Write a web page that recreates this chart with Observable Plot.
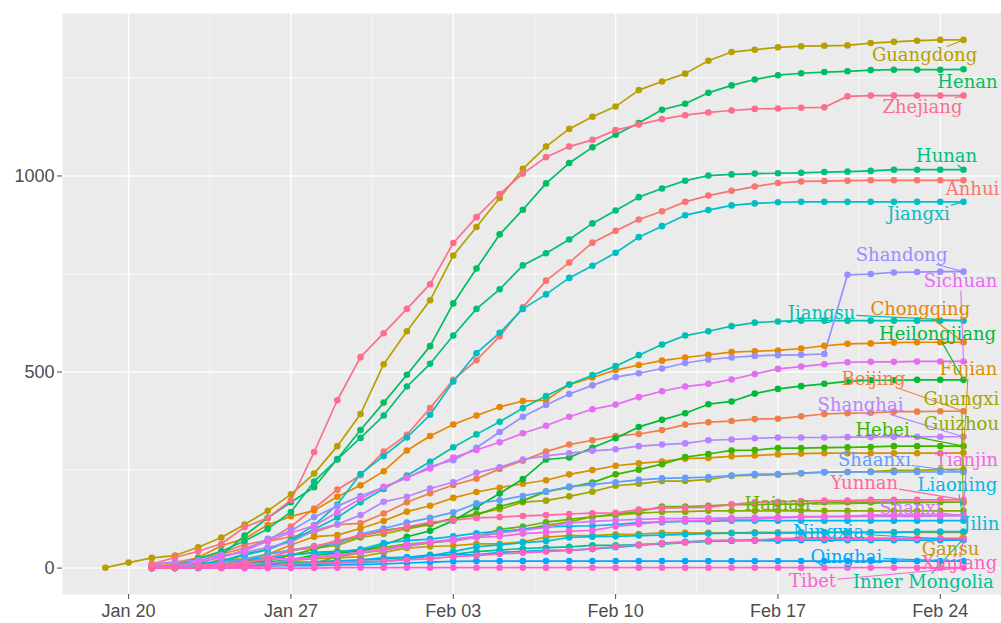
<!DOCTYPE html>
<html><head><meta charset="utf-8">
<script src="https://cdn.jsdelivr.net/npm/d3@7"></script>
<script src="https://cdn.jsdelivr.net/npm/@observablehq/plot@0.6"></script>
<style>html,body{margin:0;padding:0;background:#fff;overflow:hidden}svg{display:block}</style>
</head><body><div id="chart"></div>
<script>
const dates = ["2020-01-19","2020-01-20","2020-01-21","2020-01-22","2020-01-23","2020-01-24","2020-01-25","2020-01-26","2020-01-27","2020-01-28","2020-01-29","2020-01-30","2020-01-31",
"2020-02-01","2020-02-02","2020-02-03","2020-02-04","2020-02-05","2020-02-06","2020-02-07","2020-02-08","2020-02-09","2020-02-10","2020-02-11","2020-02-12","2020-02-13","2020-02-14","2020-02-15","2020-02-16","2020-02-17","2020-02-18","2020-02-19","2020-02-20","2020-02-21","2020-02-22","2020-02-23","2020-02-24","2020-02-25"];

const provinces = ["Anhui","Beijing","Chongqing","Fujian","Gansu","Guangdong","Guangxi","Guizhou","Hainan","Hebei","Heilongjiang","Henan","Hunan","Inner Mongolia","Jiangsu","Jiangxi","Jilin","Liaoning","Ningxia","Qinghai","Shaanxi","Shandong","Shanghai","Shanxi","Sichuan","Tianjin","Tibet","Xinjiang","Yunnan","Zhejiang"];

const anhui = [null,null,0,1,15,39,60,70,106,152,200,237,297,340,408,480,530,591,665,733,779,830,860,889,910,934,950,962,973,982,986,987,988,989,989,989,989,989];
const beijing = [null,null,10,14,26,36,51,68,80,91,111,114,139,168,191,212,228,253,274,297,315,326,337,342,352,366,372,375,380,381,387,393,395,396,399,399,400,400];
const chongqing = [null,null,5,9,27,57,75,110,132,147,182,211,247,300,337,366,389,411,426,428,468,486,505,518,529,537,544,551,553,555,560,567,572,573,575,576,576,576];
const fujian = [null,null,0,1,5,10,18,35,59,80,84,101,120,144,159,179,194,205,215,224,239,250,261,267,272,279,281,285,287,290,292,293,293,293,293,293,293,294];
const gansu = [null,null,0,0,2,4,7,14,19,24,26,29,40,51,55,57,62,62,67,79,83,83,86,87,90,90,90,90,91,91,91,91,91,91,91,91,91,91];
const guangdong = [1,14,26,32,53,78,111,146,188,241,311,393,520,604,683,797,870,944,1018,1075,1120,1151,1177,1219,1241,1261,1294,1316,1322,1328,1331,1332,1333,1339,1342,1345,1347,1347];
const guangxi = [null,null,0,2,5,23,23,36,46,51,58,78,87,100,111,127,139,150,168,172,183,195,210,215,222,222,226,235,237,238,242,244,245,246,249,249,251,252];
const guizhou = [null,null,0,1,3,4,5,7,9,12,29,38,46,56,64,71,81,89,99,109,118,131,135,140,143,144,146,146,146,146,146,146,146,146,146,146,146,146];
const hainan = [null,null,0,4,5,8,19,22,33,40,43,46,52,62,64,72,80,99,106,117,124,131,138,144,157,157,159,162,162,163,163,168,168,168,168,168,168,168];
const hebei = [null,null,0,1,2,8,13,18,33,48,65,82,96,104,113,126,135,157,172,195,206,218,239,251,265,283,291,300,301,306,306,307,308,309,311,311,311,311];
const heilongjiang = [null,null,0,1,2,4,9,15,21,33,38,44,59,80,95,121,155,190,227,277,282,307,331,360,378,395,418,425,445,457,464,470,476,479,479,480,480,480];
const henan = [null,null,1,5,9,32,83,128,168,206,278,352,422,493,566,675,764,851,914,981,1033,1073,1105,1135,1169,1184,1212,1231,1246,1257,1262,1265,1267,1270,1271,1271,1271,1272];
const hunan = [null,null,1,4,24,43,69,100,143,221,277,332,389,463,521,593,661,711,772,803,838,879,912,946,968,988,1001,1004,1006,1007,1008,1010,1011,1013,1016,1016,1016,1016];
const innerMongolia = [null,null,0,0,1,7,7,11,15,16,19,20,23,27,34,35,42,46,50,52,54,58,58,60,61,65,68,70,72,73,75,75,75,75,75,75,75,75];
const jiangsu = [null,null,1,5,9,18,33,47,70,99,129,168,202,236,271,308,341,373,408,439,468,492,515,543,570,593,604,617,626,629,631,631,631,631,631,631,631,631];
const jiangxi = [null,null,2,3,7,18,36,48,72,109,162,240,286,333,391,476,548,600,661,698,740,771,804,844,872,900,913,925,930,933,934,934,934,934,934,934,934,934];
const jilin = [null,null,0,0,1,3,4,6,8,9,14,14,17,23,31,42,54,59,65,69,78,80,81,83,84,86,88,89,89,89,90,91,91,91,91,93,93,93];
const liaoning = [null,null,0,2,4,17,21,27,34,39,41,48,64,70,74,81,89,94,99,105,107,108,111,116,117,119,119,121,121,121,121,121,121,121,121,121,121,121];
const ningxia = [null,null,0,1,2,3,4,7,11,12,17,21,26,28,31,34,34,40,43,45,45,49,53,58,64,67,70,70,70,70,71,71,71,71,71,71,71,71];
const qinghai = [null,null,0,0,0,0,1,6,6,6,8,9,11,13,15,17,18,18,18,18,18,18,18,18,18,18,18,18,18,18,18,18,18,18,18,18,18,18];
const shaanxi = [null,null,0,0,3,15,22,35,46,56,63,87,101,116,128,142,165,173,184,195,208,213,219,225,229,230,232,236,240,240,242,245,245,245,245,245,245,245];
const shandong = [null,null,1,6,15,27,46,75,95,130,158,184,206,230,259,275,307,347,386,416,444,466,487,497,509,523,532,537,541,543,544,546,748,750,754,755,756,756];
const shanghai = [null,null,9,16,20,33,40,53,66,96,112,135,169,182,203,219,243,257,277,286,293,299,303,311,315,318,326,328,331,333,333,333,334,334,335,335,335,335];
const shanxi = [null,null,0,1,1,6,9,13,20,27,35,39,47,56,66,74,81,90,96,104,115,119,122,124,126,126,127,128,129,130,131,131,132,132,132,132,133,133];
const sichuan = [null,null,2,5,15,28,44,69,90,108,142,177,207,231,254,282,301,321,344,363,386,405,417,436,451,463,470,481,495,508,514,520,525,526,526,527,527,527];
const tianjin = [null,null,2,4,8,10,14,23,24,27,32,41,48,60,67,69,78,81,88,91,94,96,106,112,119,120,122,124,125,128,130,131,132,135,135,135,135,135];
const tibet = [null,null,0,0,0,0,0,0,0,0,1,1,1,1,1,1,1,1,1,1,1,1,1,1,1,1,1,1,1,1,1,1,1,1,1,1,1,1];
const xinjiang = [null,null,0,0,2,3,4,5,10,13,14,17,18,21,24,29,32,36,39,42,45,49,55,59,63,65,70,71,71,75,76,76,76,76,76,76,76,76];
const yunnan = [null,null,0,1,2,5,11,26,44,55,70,83,93,105,117,122,128,130,133,135,138,140,141,149,153,154,155,162,168,169,171,172,172,174,174,174,174,174];
const zhejiang = [null,null,10,27,43,62,104,128,173,296,428,538,599,661,724,829,895,954,1006,1048,1075,1092,1117,1131,1145,1155,1162,1167,1171,1172,1174,1175,1203,1205,1205,1205,1205,1205];

const seriesList = [anhui,beijing,chongqing,fujian,gansu,guangdong,guangxi,guizhou,hainan,hebei,heilongjiang,henan,hunan,innerMongolia,jiangsu,jiangxi,jilin,liaoning,ningxia,qinghai,shaanxi,shandong,shanghai,shanxi,sichuan,tianjin,tibet,xinjiang,yunnan,zhejiang];

// repelled label positions (label centre: day since Jan 19, value)
const labelDay = [37.39,33.12,35.14,37.21,36.44,35.32,36.91,36.91,28.98,33.51,35.88,37.17,36.27,35.27,30.88,35.06,37.77,36.74,31.18,31.95,33.16,34.33,32.56,34.71,36.87,37.13,30.49,36.83,32.73,35.23];
const labelValue = [965,481,659,506,47,1307,430,366,162,351,596,1238,1051,-37,649,902,111,211,91,27,274,797,415,152,731,274,-34,12,216,1176];

const xTicks = ["2020-01-20","2020-01-27","2020-02-03","2020-02-10","2020-02-17","2020-02-24"];
const xTickLabels = ["Jan 20","Jan 27","Feb 03","Feb 10","Feb 17","Feb 24"];
const xMinor = ["2020-01-23T12:00Z","2020-01-30T12:00Z","2020-02-06T12:00Z","2020-02-13T12:00Z","2020-02-20T12:00Z"];
const yTicks = [0,500,1000];
const yMinor = [250,750,1250];

// ---- build ----
const DAY = 864e5;
const parse = s => new Date(s.length === 10 ? s + "T00:00Z" : s);
const rows = [];
provinces.forEach((p, k) => seriesList[k].forEach((v, i) => { if (v != null) rows.push({province: p, date: parse(dates[i]), value: v}); }));

function hueColor(h, c = 100, l = 65) {
  const hr = h * Math.PI / 180, u = c * Math.cos(hr), v = c * Math.sin(hr);
  const un = 0.1978398, vn = 0.4683363;
  const Y = l > 8 ? Math.pow((l + 16) / 116, 3) : l / 903.3;
  const up = u / (13 * l) + un, vp = v / (13 * l) + vn;
  const X = 9 * Y * up / (4 * vp), Z = Y * (12 - 3 * up - 20 * vp) / (4 * vp);
  const lin = [3.240479*X - 1.537150*Y - 0.498535*Z, -0.969256*X + 1.875992*Y + 0.041556*Z, 0.055648*X - 0.204043*Y + 1.057311*Z];
  const g = t => { t = t > 0.00304 ? 1.055 * Math.pow(t, 1/2.4) - 0.055 : 12.92 * t; return Math.round(255 * Math.max(0, Math.min(1, t))); };
  return "#" + lin.map(g).map(n => n.toString(16).padStart(2, "0")).join("");
}
const n = provinces.length;
const palette = provinces.map((_, i) => hueColor(15 + 360 * i / n));

const firstDate = parse(dates[0]), lastDate = parse(dates[dates.length - 1]);
const span = (lastDate - firstDate);
const xDomain = [new Date(+firstDate - 0.05 * span), new Date(+lastDate + 0.0443 * span)];
const vmax = d3.max(rows, d => d.value);
const yDomain = [-0.05 * vmax, 1.05 * vmax];

const W = 1001, H = 623, ML = 62, MR = 0, MT = 13, MB = 29;
const xs = Plot.scale({x: {type: "utc", domain: xDomain, range: [ML, W - MR]}});
const ys = Plot.scale({y: {type: "linear", domain: yDomain, range: [H - MB, MT]}});

const labelSize = 18, labelFont = "DejaVu Serif";
const ctx = document.createElement("canvas").getContext("2d");
ctx.font = `${labelSize}px "${labelFont}"`;

const labels = provinces.map((p, k) => ({province: p, date: new Date(+firstDate + labelDay[k] * DAY), value: labelValue[k]}));
const segs = [];
provinces.forEach((p, k) => {
  const last = seriesList[k][seriesList[k].length - 1];
  const px = xs.apply(lastDate), py = ys.apply(last);
  const cx = xs.apply(labels[k].date), cy = ys.apply(labels[k].value);
  const w = ctx.measureText(p).width / 2 + 1, h = labelSize * 0.5;
  if (Math.abs(px - cx) <= w && Math.abs(py - cy) <= h) return;
  const dx = cx - px, dy = cy - py;
  let t = 0;
  if (dx !== 0) t = Math.max(t, Math.min((cx - w - px) / dx, (cx + w - px) / dx));
  if (dy !== 0) t = Math.max(t, Math.min((cy - h - py) / dy, (cy + h - py) / dy));
  const ex = px + t * dx, ey = py + t * dy;
  if (Math.hypot(ex - px, ey - py) < 6) return;
  segs.push({province: p, x1: lastDate, y1: last, x2: xs.invert(ex), y2: ys.invert(ey)});
});

const tickLabel = new Map(xTicks.map((d, i) => [+parse(d), xTickLabels[i]]));

const chart = Plot.plot({
  width: W, height: H, marginLeft: ML, marginRight: MR, marginTop: MT, marginBottom: MB,
  style: {fontFamily: "'Liberation Sans', Arial, sans-serif", fontSize: "18px", background: "#fff", overflow: "hidden"},
  x: {type: "utc", domain: xDomain, axis: null},
  y: {domain: yDomain, axis: null},
  color: {domain: provinces, range: palette},
  marks: [
    Plot.frame({fill: "#EBEBEB", stroke: null}),
    Plot.ruleY(yMinor, {stroke: "#fff", strokeWidth: 0.7}),
    Plot.ruleX(xMinor.map(parse), {stroke: "#fff", strokeWidth: 0.7}),
    Plot.ruleY(yTicks, {stroke: "#fff", strokeWidth: 1.4}),
    Plot.ruleX(xTicks.map(parse), {stroke: "#fff", strokeWidth: 1.4}),
    Plot.line(rows, {x: "date", y: "value", z: "province", stroke: "province", strokeWidth: 1.7}),
    Plot.dot(rows, {x: "date", y: "value", fill: "province", r: 3.3, stroke: null}),
    Plot.link(segs, {x1: "x1", y1: "y1", x2: "x2", y2: "y2", stroke: "province", strokeWidth: 1.1}),
    Plot.text(labels, {x: "date", y: "value", text: "province", fill: "province", fontFamily: labelFont, fontSize: labelSize, textAnchor: "middle", lineAnchor: "middle"}),
    Plot.axisX(xTicks.map(parse), {anchor: "bottom", tickSize: 5, tickPadding: 5, tickFormat: d => tickLabel.get(+d), color: "#4D4D4D", fontSize: 18, label: null}),
    Plot.axisY(yTicks, {anchor: "left", tickSize: 5, tickPadding: 3, tickFormat: d => String(d), color: "#4D4D4D", fontSize: 18, label: null})
  ]
});
document.getElementById("chart").appendChild(chart);
</script>
</body></html>
